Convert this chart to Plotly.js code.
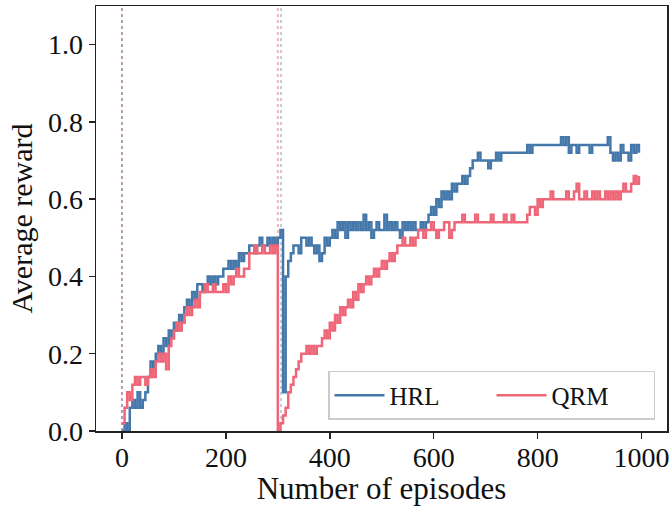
<!DOCTYPE html>
<html>
<head>
<meta charset="utf-8">
<script src="https://cdn.plot.ly/plotly-3.0.1.min.js"></script>
<style>html,body{margin:0;padding:0;background:#fff;}#chart{width:670px;height:506px;}</style>
</head>
<body>
<div id="chart"></div>
<script>
// Sampled every 5 episodes (episode = index * step)
const step = 5;

const hrlReward = [
  0.00, 0.02, 0.00, 0.06, 0.08, 0.06, 0.10, 0.06, 0.08, 0.10,
  0.14, 0.18, 0.16, 0.20, 0.22, 0.20, 0.24, 0.22, 0.26, 0.24,
  0.28, 0.26, 0.30, 0.28, 0.32, 0.34, 0.32, 0.36, 0.34, 0.38,
  0.38, 0.36, 0.38, 0.40, 0.38, 0.40, 0.38, 0.40, 0.40, 0.42,
  0.42, 0.44, 0.42, 0.44, 0.42, 0.46, 0.44, 0.46, 0.46, 0.48,
  0.48, 0.46, 0.48, 0.50, 0.48, 0.48, 0.50, 0.48, 0.50, 0.48,
  0.50, 0.52, 0.10, 0.40, 0.44, 0.46, 0.48, 0.48, 0.46, 0.50,
  0.50, 0.48, 0.50, 0.48, 0.46, 0.48, 0.44, 0.46, 0.50, 0.48,
  0.50, 0.52, 0.50, 0.54, 0.52, 0.54, 0.50, 0.54, 0.52, 0.54,
  0.52, 0.54, 0.52, 0.56, 0.52, 0.54, 0.50, 0.52, 0.54, 0.52,
  0.52, 0.56, 0.52, 0.54, 0.52, 0.54, 0.52, 0.50, 0.54, 0.52,
  0.54, 0.52, 0.54, 0.52, 0.52, 0.54, 0.52, 0.54, 0.56, 0.58,
  0.56, 0.60, 0.58, 0.62, 0.60, 0.62, 0.60, 0.64, 0.62, 0.64,
  0.64, 0.66, 0.64, 0.66, 0.68, 0.70, 0.70, 0.72, 0.70, 0.70,
  0.70, 0.68, 0.70, 0.70, 0.72, 0.70, 0.72, 0.72, 0.72, 0.72,
  0.72, 0.72, 0.72, 0.72, 0.72, 0.72, 0.74, 0.72, 0.74, 0.74,
  0.74, 0.74, 0.74, 0.74, 0.74, 0.74, 0.74, 0.74, 0.74, 0.76,
  0.74, 0.76, 0.72, 0.74, 0.74, 0.72, 0.74, 0.74, 0.74, 0.74,
  0.72, 0.74, 0.74, 0.74, 0.74, 0.74, 0.74, 0.76, 0.72, 0.70,
  0.72, 0.70, 0.74, 0.72, 0.72, 0.70, 0.74, 0.72, 0.74, 0.72
];

const qrmReward = [
  0.02, 0.06, 0.10, 0.08, 0.12, 0.14, 0.12, 0.14, 0.14, 0.12,
  0.14, 0.16, 0.14, 0.18, 0.20, 0.18, 0.20, 0.16, 0.22, 0.24,
  0.26, 0.28, 0.26, 0.28, 0.30, 0.32, 0.30, 0.32, 0.34, 0.32,
  0.36, 0.36, 0.38, 0.36, 0.36, 0.38, 0.36, 0.36, 0.36, 0.38,
  0.36, 0.40, 0.38, 0.40, 0.42, 0.40, 0.40, 0.42, 0.42, 0.46,
  0.46, 0.48, 0.46, 0.46, 0.48, 0.46, 0.46, 0.48, 0.46, 0.48,
  0.00, 0.02, 0.04, 0.06, 0.10, 0.12, 0.14, 0.16, 0.18, 0.20,
  0.20, 0.22, 0.20, 0.22, 0.20, 0.22, 0.22, 0.24, 0.26, 0.24,
  0.28, 0.26, 0.30, 0.28, 0.32, 0.30, 0.32, 0.34, 0.32, 0.36,
  0.34, 0.38, 0.36, 0.38, 0.40, 0.38, 0.40, 0.42, 0.40, 0.42,
  0.44, 0.42, 0.44, 0.46, 0.44, 0.46, 0.48, 0.48, 0.50, 0.48,
  0.48, 0.50, 0.48, 0.50, 0.52, 0.52, 0.50, 0.52, 0.52, 0.54,
  0.52, 0.50, 0.52, 0.52, 0.54, 0.54, 0.50, 0.52, 0.54, 0.54,
  0.54, 0.56, 0.54, 0.54, 0.54, 0.54, 0.56, 0.54, 0.54, 0.54,
  0.54, 0.54, 0.56, 0.54, 0.54, 0.54, 0.54, 0.56, 0.54, 0.54,
  0.56, 0.54, 0.54, 0.54, 0.54, 0.54, 0.56, 0.58, 0.58, 0.56,
  0.60, 0.58, 0.60, 0.60, 0.60, 0.62, 0.60, 0.60, 0.60, 0.60,
  0.60, 0.62, 0.60, 0.60, 0.62, 0.64, 0.60, 0.60, 0.62, 0.60,
  0.60, 0.62, 0.60, 0.62, 0.60, 0.60, 0.62, 0.60, 0.62, 0.60,
  0.62, 0.60, 0.62, 0.64, 0.62, 0.62, 0.64, 0.66, 0.64, 0.66
];

// Episodes at which the task changes for each method
const hrlSwitches = [0, 306];
const qrmSwitches = [0, 300];

const xTicks = [0, 200, 400, 600, 800, 1000];
const yTicks = [0.0, 0.2, 0.4, 0.6, 0.8, 1.0];

const BLUE = '#4477AA';
const RED = '#EE6677';
const FONT = 'Liberation Serif, DejaVu Serif, serif';

const episodes = hrlReward.map((_, i) => i * step);

const traces = [
  {x: episodes, y: hrlReward, name: 'HRL', mode: 'lines',
   line: {color: BLUE, width: 2.5, shape: 'hv'}},
  {x: episodes, y: qrmReward, name: 'QRM', mode: 'lines',
   line: {color: RED, width: 2.5, shape: 'hv'}}
];

const shapes = [];
qrmSwitches.forEach(s => shapes.push({type: 'line', xref: 'x', yref: 'paper', x0: s, x1: s, y0: 0, y1: 1,
  line: {color: RED, width: 2, dash: 'dot'}, opacity: 0.5, layer: 'below'}));
hrlSwitches.forEach(s => shapes.push({type: 'line', xref: 'x', yref: 'paper', x0: s, x1: s, y0: 0, y1: 1,
  line: {color: BLUE, width: 2, dash: 'dot'}, opacity: 0.35, layer: 'below'}));

const axisCommon = {
  showline: true, mirror: true, linecolor: '#222', linewidth: 1.5,
  ticks: 'outside', ticklen: 6, tickwidth: 1.5, tickcolor: '#222',
  showgrid: false, zeroline: false,
  tickfont: {family: FONT, size: 28, color: '#111'}
};

const layout = {
  width: 670, height: 506,
  margin: {l: 96, r: 3, t: 6, b: 75},
  paper_bgcolor: '#fff', plot_bgcolor: '#fff',
  font: {family: FONT, color: '#111'},
  showlegend: true,
  legend: {
    orientation: 'h', x: 0.979, xanchor: 'right', y: 0.026, yanchor: 'bottom',
    bgcolor: 'rgba(255,255,255,0.85)', bordercolor: '#cccccc', borderwidth: 1.5,
    font: {family: FONT, size: 25, color: '#111'},
    itemwidth: 50, entrywidth: 97
  },
  xaxis: Object.assign({}, axisCommon, {
    range: [-50, 1049], tickmode: 'array', tickvals: xTicks,
    ticklabelstandoff: -5,
    title: {text: 'Number of episodes', font: {family: FONT, size: 31, color: '#111'}, standoff: 2}
  }),
  yaxis: Object.assign({}, axisCommon, {
    range: [0, 1.1], tickmode: 'array', tickvals: yTicks, tickformat: '.1f',
    title: {text: 'Average reward', font: {family: FONT, size: 30, color: '#111'}, standoff: 6}
  }),
  shapes: shapes
};

Plotly.newPlot('chart', traces, layout, {staticPlot: true, displayModeBar: false});
</script>
</body>
</html>
